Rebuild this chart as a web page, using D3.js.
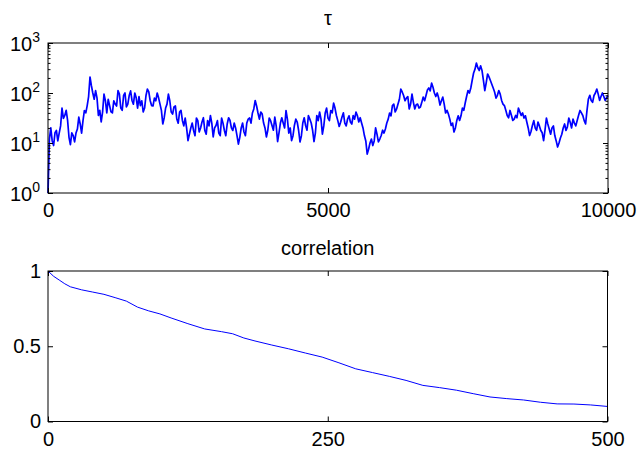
<!DOCTYPE html>
<meta charset="utf-8">
<style>
body { margin: 0; background: #fff; font-family: "Liberation Sans", Arial, Helvetica, sans-serif; }
.tick line { stroke: #000; }
.tick text { font-size: 20px; fill: #000; }
.title { font-size: 20px; }
</style>
<body>
<script src="https://d3js.org/d3.v7.min.js"></script>
<script>
// tau trace: values at iterations 0, 50, 100, ...
var tauStep = 50;
var tau = [1, 20, 8.9, 17.8, 15.8, 50, 35.5, 28.2, 9.3, 14.1,
  15.8, 33, 15.8, 44.7, 56, 209, 100, 112, 35.5, 26.3,
  95, 40, 56, 40, 60, 112, 50, 89, 52.5, 89,
  71, 100, 50, 56, 41.7, 89, 105, 56, 79, 100,
  60, 24, 50, 95, 41.7, 52.5, 30.2, 41.7, 28.2, 31.6,
  11.2, 20, 17.8, 31.6, 16.6, 26.3, 17.8, 28.2, 35.5, 13.2,
  22.4, 15.8, 31.6, 17.8, 24, 28.2, 17.8, 20, 9.5, 20,
  16.6, 25.1, 31.6, 39.8, 70.8, 39.8, 41.7, 25.1, 13.2, 31.6,
  22.4, 33.1, 10.7, 25.1, 25.1, 44.7, 15.8, 11.2, 22.4, 26.3,
  10.5, 25.1, 22.4, 35.5, 25.1, 10.7, 35.5, 41.7, 15.1, 39.8,
  31.6, 44.7, 63, 35.5, 21.4, 33.1, 25.1, 30.2, 26.3, 35.5,
  41.7, 26.3, 25.1, 14.1, 6.0, 10, 8.9, 20, 10.5, 14.1,
  15.8, 25.1, 39.8, 56, 41.7, 60, 120, 89, 79, 47.9,
  95, 47.9, 60, 52.5, 83, 89, 126, 158, 100, 100,
  57.5, 83, 39.8, 38, 22.4, 16.6, 28.2, 28.2, 50, 63,
  112, 126, 251, 398, 282, 282, 112, 240, 178, 126,
  79, 112, 71, 56, 35.5, 44.7, 28.2, 35.5, 50, 35.5,
  31.6, 26.3, 14.1, 22.4, 20, 26.3, 17.8, 11.2, 31.6, 19,
  20, 14.1, 8.3, 12.6, 20, 17.8, 31.6, 20, 25.1, 28.2,
  44.7, 35.5, 24, 76, 71, 89, 120, 71, 100, 71, 89];

// values at iterations 25, 75, 125, ... (between the ones above)
var tauMid = [12, 11, 16, 11, 22, 31, 45, 13, 16, 10.5,
  19, 24, 28, 40, 85, 140, 75, 80, 45, 42,
  70, 75, 42, 70, 55, 95, 45, 100, 60, 110,
  60, 80, 85, 70, 50, 120, 70, 55, 70, 80,
  45, 32, 60, 70, 38, 55, 25, 45, 22, 20,
  15, 25, 14, 28, 20, 32, 15, 22, 25, 20,
  28, 14, 25, 14, 32, 20, 25, 14, 13, 25,
  14, 30, 25, 48, 55, 30, 38, 20, 18, 28,
  18, 22, 16, 32, 20, 30, 20, 14, 30, 18,
  14, 32, 18, 30, 18, 16, 28, 30, 22, 50,
  28, 40, 50, 28, 26, 40, 22, 35, 24, 30,
  35, 32, 20, 11, 7.5, 12, 11, 15, 12, 18,
  19, 30, 35, 60, 48, 75, 105, 70, 85, 60,
  65, 58, 50, 65, 70, 115, 110, 130, 85, 80,
  70, 60, 45, 30, 25, 20, 35, 35, 45, 85,
  100, 180, 300, 320, 350, 180, 160, 210, 150, 105,
  90, 95, 60, 45, 32, 36, 30, 32, 42, 40,
  35, 20, 17, 28, 18, 22, 16, 18, 24, 15,
  22, 11, 10, 15, 24, 21, 26, 30, 22, 36,
  40, 28, 45, 90, 65, 100, 95, 85, 85, 80];

// autocorrelation
var lags = [0, 5, 10, 15, 20, 25, 30, 40, 50, 60, 70, 80, 90, 100, 110, 125, 140, 155, 165, 175,
  185, 200, 215, 230, 245, 260, 275, 290, 305, 320, 335, 350, 365, 380, 395, 410, 425, 440, 455, 470, 485, 500];
var corr = [1, 0.965, 0.94, 0.915, 0.895, 0.885, 0.875, 0.86, 0.845, 0.823, 0.8, 0.76, 0.735, 0.715, 0.688, 0.65, 0.615, 0.597, 0.583, 0.555,
  0.535, 0.508, 0.483, 0.455, 0.428, 0.39, 0.35, 0.325, 0.3, 0.273, 0.24, 0.225, 0.208, 0.185, 0.163, 0.152, 0.143, 0.128, 0.117, 0.116, 0.11, 0.1];

var xTicksTop = [0, 5000, 10000];
var yTicksTop = [1, 10, 100, 1000];
var xTicksBot = [0, 250, 500];
var yTicksBot = [0, 0.5, 1];

// merge the two tau lists into one trace
var trace = [];
tau.forEach(function(v, i) {
  trace.push({ it: i * tauStep, v: v });
  if (i < tauMid.length) trace.push({ it: i * tauStep + tauStep / 2, v: tauMid[i] });
});

var width = 638, height = 453;
var svg = d3.select("body").append("svg")
    .attr("width", width)
    .attr("height", height);

var L = 48, R = 608;

// ---- top panel ----
var x1 = d3.scaleLinear().domain([0, 10000]).range([L, R]);
var y1 = d3.scaleLog().domain([1, 1000]).range([193, 43]);

var minor = [];
[1, 10, 100].forEach(function(d) {
  for (var k = 2; k <= 9; k++) minor.push(k * d);
});

var g1 = svg.append("g");

g1.append("path")
    .datum(trace)
    .attr("fill", "none")
    .attr("stroke", "#0000ff")
    .attr("stroke-width", 1.7)
    .attr("stroke-linejoin", "round")
    .attr("d", d3.line()
      .x(function(d) { return x1(d.it); })
      .y(function(d) { return y1(d.v); }));

g1.append("g").attr("transform", "translate(0,193)")
    .call(d3.axisBottom(x1).tickValues(xTicksTop).tickSize(-5).tickSizeOuter(0).tickPadding(10).tickFormat(d3.format("d")));
g1.append("g").attr("transform", "translate(0,43)")
    .call(d3.axisTop(x1).tickValues(xTicksTop).tickSize(-5).tickSizeOuter(0).tickFormat(""));

var yl = g1.append("g").attr("transform", "translate(" + L + ",0)")
    .call(d3.axisLeft(y1).tickValues(yTicksTop).tickSize(-5).tickSizeOuter(0).tickPadding(8).tickFormat(""));
yl.selectAll(".tick text").each(function(d) {
  var t = d3.select(this).attr("dy", "0.36em");
  t.append("tspan").text("10");
  t.append("tspan").attr("dy", -9).style("font-size", "14px").text(Math.round(Math.log10(d)));
});
g1.append("g").attr("transform", "translate(" + R + ",0)")
    .call(d3.axisRight(y1).tickValues(yTicksTop).tickSize(-5).tickSizeOuter(0).tickFormat(""));
g1.append("g").attr("transform", "translate(" + L + ",0)")
    .call(d3.axisLeft(y1).tickValues(minor).tickSize(-2.5).tickSizeOuter(0).tickFormat(""));
g1.append("g").attr("transform", "translate(" + R + ",0)")
    .call(d3.axisRight(y1).tickValues(minor).tickSize(-2.5).tickSizeOuter(0).tickFormat(""));

g1.append("rect")
    .attr("x", L).attr("y", 43).attr("width", R - L).attr("height", 150)
    .attr("fill", "none").attr("stroke", "#000");

g1.append("text").attr("class", "title")
    .attr("x", (L + R) / 2).attr("y", 25)
    .attr("text-anchor", "middle").text("τ");

// ---- bottom panel ----
var x2 = d3.scaleLinear().domain([0, 500]).range([L, 607.5]);
var y2 = d3.scaleLinear().domain([0, 1]).range([421.5, 271]);

var g2 = svg.append("g");

g2.append("path")
    .datum(lags)
    .attr("fill", "none")
    .attr("stroke", "#0000ff")
    .attr("stroke-width", 1)
    .attr("d", d3.line()
      .x(function(d) { return x2(d); })
      .y(function(d, i) { return y2(corr[i]); }));

g2.append("g").attr("transform", "translate(0,421.5)")
    .call(d3.axisBottom(x2).tickValues(xTicksBot).tickSize(-5).tickSizeOuter(0).tickPadding(10));
g2.append("g").attr("transform", "translate(0,271)")
    .call(d3.axisTop(x2).tickValues(xTicksBot).tickSize(-5).tickSizeOuter(0).tickFormat(""));
g2.append("g").attr("transform", "translate(" + L + ",0)")
    .call(d3.axisLeft(y2).tickValues(yTicksBot).tickSize(-5).tickSizeOuter(0).tickPadding(7).tickFormat(d3.format("")));
g2.append("g").attr("transform", "translate(607.5,0)")
    .call(d3.axisRight(y2).tickValues(yTicksBot).tickSize(-5).tickSizeOuter(0).tickFormat(""));

g2.append("rect")
    .attr("x", L).attr("y", 271).attr("width", 607.5 - L).attr("height", 150.5)
    .attr("fill", "none").attr("stroke", "#000");

g2.append("text").attr("class", "title")
    .attr("x", (L + 607.5) / 2).attr("y", 255)
    .attr("text-anchor", "middle").text("correlation");

svg.selectAll(".domain").remove();
svg.selectAll(".tick text").style("font-family", "'Liberation Sans', Arial, Helvetica, sans-serif");
</script>
</body>
